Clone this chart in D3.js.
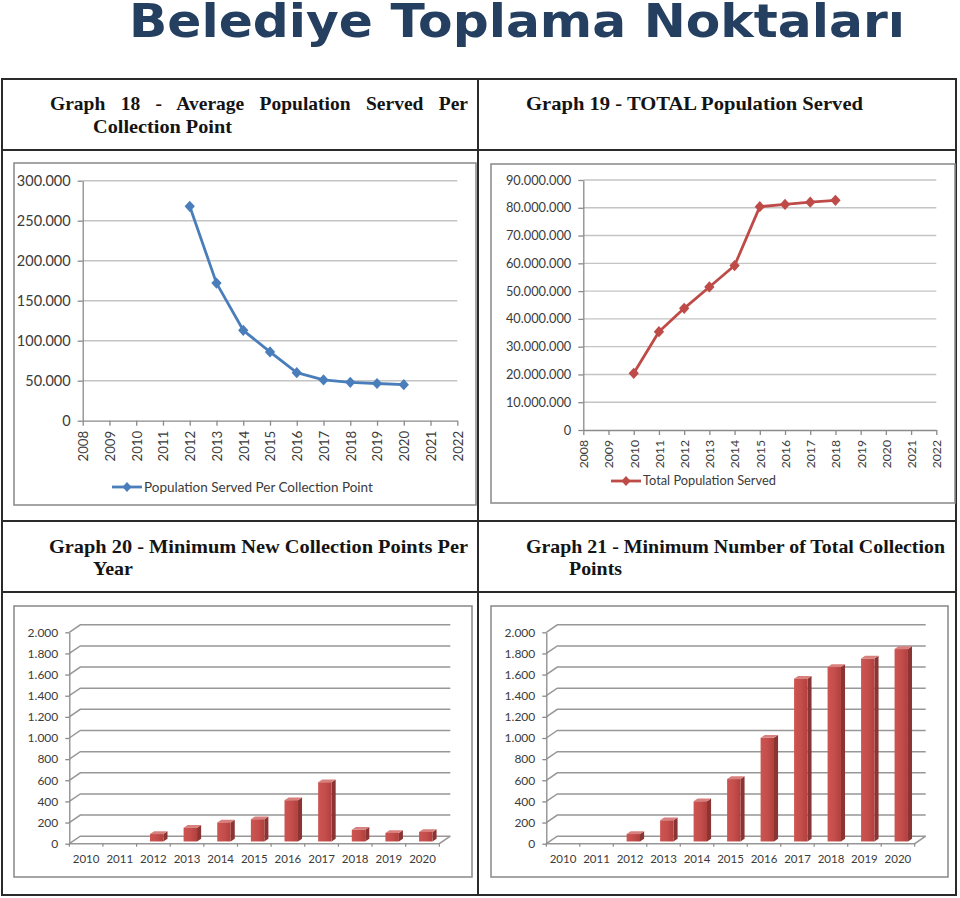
<!DOCTYPE html>
<html><head><meta charset="utf-8">
<script src="https://cdn.jsdelivr.net/npm/d3@7/dist/d3.min.js"></script>
<style>body{margin:0;background:#fff}svg{display:block}</style>
</head><body><svg id="c" width="960" height="898"></svg>
<script>
// ---------- DATA ----------
const pageTitle = "Belediye Toplama Noktaları";
const headerG18 = ["Graph 18 - Average Population Served Per", "Collection Point"];
const headerG19 = ["Graph 19 - TOTAL Population Served"];
const headerG20 = ["Graph 20 - Minimum New Collection Points Per", "Year"];
const headerG21 = ["Graph 21 - Minimum Number of Total Collection", "Points"];

const lineAxisYears = [2008,2009,2010,2011,2012,2013,2014,2015,2016,2017,2018,2019,2020,2021,2022];

const g18Name = "Population Served Per Collection Point";
const g18Years = [2012,2013,2014,2015,2016,2017,2018,2019,2020];
const g18Values = [268000,172000,113000,86000,60000,51000,48000,46500,45000];
const g18Ticks = [0,50000,100000,150000,200000,250000,300000];

const g19Name = "Total Population Served";
const g19Years = [2010,2011,2012,2013,2014,2015,2016,2017,2018];
const g19Values = [20400000,35400000,43800000,51500000,59200000,80400000,81200000,82000000,82700000];
const g19Ticks = [0,10000000,20000000,30000000,40000000,50000000,60000000,70000000,80000000,90000000];

const barYears = ["2010","2011","2012","2013","2014","2015","2016","2017","2018","2019","2020"];
const g20Values = [0,0,70,130,180,210,390,560,110,80,90];
const g21Values = [0,0,70,200,380,590,980,1540,1650,1730,1820];
const barTicks = [0,200,400,600,800,1000,1200,1400,1600,1800,2000];

// ---------- SETUP ----------
const svg = d3.select("#c");
svg.append("rect").attr("width",960).attr("height",898).attr("fill","#fff");
const trLocale = d3.formatLocale({decimal:",", thousands:".", grouping:[3], currency:["",""]});
const fmt = trLocale.format(",d");
const LABEL_FONT = "Lato, 'Open Sans', sans-serif";
const TXT = "#3b3b3b";

// Big title
const tt = svg.append("text").text(pageTitle)
  .attr("x",129).attr("y",37)
  .attr("font-family","'DejaVu Sans', Verdana, sans-serif").attr("font-weight","bold")
  .attr("font-size",47).attr("fill","#243f60")
  .attr("textLength",776).attr("lengthAdjust","spacingAndGlyphs");

// Table grid
const T = svg.append("g").attr("stroke","#2a2a2a").attr("stroke-width",2).attr("fill","none");
T.append("rect").attr("x",2).attr("y",79).attr("width",954).attr("height",816);
T.append("line").attr("x1",478).attr("x2",478).attr("y1",79).attr("y2",895);
[150,521,592].forEach(yy=>T.append("line").attr("x1",2).attr("x2",956).attr("y1",yy).attr("y2",yy));

// Headers
function header(lines, specs){
  lines.forEach((t,i)=>{
    const s = specs[i];
    const el = svg.append("text").text(t).attr("x",s.x).attr("y",s.y)
      .attr("font-family","'Liberation Serif','Times New Roman',serif").attr("font-weight","bold")
      .attr("font-size",19.5).attr("fill","#141414");
    const natural = el.node().getComputedTextLength();
    if (s.justify) {
      const spaces = (t.match(/ /g)||[]).length;
      el.attr("word-spacing", ((s.w - natural)/spaces).toFixed(2));
    } else {
      el.attr("textLength", s.w).attr("lengthAdjust","spacingAndGlyphs");
    }
  });
}
header(headerG18,[{x:50,y:110,w:418,justify:true},{x:93,y:133,w:139}]);
header(headerG19,[{x:526,y:110,w:337}]);
header(headerG20,[{x:49,y:553,w:419},{x:93,y:575,w:40}]);
header(headerG21,[{x:526,y:553,w:419},{x:569,y:575,w:53}]);

// Chart frames
const F = svg.append("g").attr("stroke","#8f8f8f").attr("stroke-width",1.6).attr("fill","none");
F.append("rect").attr("x",14).attr("y",163).attr("width",462).attr("height",342);
F.append("rect").attr("x",491).attr("y",164).attr("width",464).attr("height",339);
F.append("rect").attr("x",14).attr("y",606).attr("width",458).attr("height",271);
F.append("rect").attr("x",491).attr("y",606).attr("width",457).attr("height",271);

const diamond = (s)=>`M0,${-s}L${s*0.92},0L0,${s}L${-s*0.92},0Z`;

// ---------- LINE CHARTS ----------
function lineChart(c){
  const g = svg.append("g");
  const x = d3.scaleLinear().domain([lineAxisYears[0], lineAxisYears[lineAxisYears.length-1]]).range([c.x0,c.x1]);
  const y = d3.scaleLinear().domain([0, c.ticks[c.ticks.length-1]]).range([c.y0,c.y1]);
  // grid
  g.append("g").selectAll("line").data(c.ticks.slice(1)).join("line")
    .attr("x1",c.x0).attr("x2",c.x1).attr("y1",d=>y(d)).attr("y2",d=>y(d))
    .attr("stroke","#c4c4c4").attr("stroke-width",1.4);
  // y axis
  const ya = g.append("g").attr("transform",`translate(${c.x0},0)`)
    .call(d3.axisLeft(y).tickValues(c.ticks).tickFormat(fmt).tickSize(5).tickSizeOuter(0).tickPadding(7));
  ya.selectAll("path,line").attr("stroke","#8a8a8a").attr("stroke-width",1.3);
  ya.selectAll("text").attr("font-family",LABEL_FONT).attr("font-size",c.yFont).attr("fill",TXT);
  // x axis
  const xa = g.append("g").attr("transform",`translate(0,${c.y0})`)
    .call(d3.axisBottom(x).tickValues(lineAxisYears).tickFormat(d3.format("d")).tickSize(5).tickSizeOuter(0));
  xa.selectAll("path,line").attr("stroke","#8a8a8a").attr("stroke-width",1.3);
  xa.selectAll("text").attr("font-family",LABEL_FONT).attr("font-size",c.xFont).attr("fill",TXT)
    .attr("transform","rotate(-90)").attr("text-anchor","end")
    .attr("x",-10).attr("y",0).attr("dy","0.36em");
  // series
  const pts = c.years.map((yr,i)=>[yr,c.values[i]]);
  g.append("path").datum(pts)
    .attr("d", d3.line().x(d=>x(d[0])).y(d=>y(d[1])))
    .attr("fill","none").attr("stroke",c.color).attr("stroke-width",2.8).attr("stroke-linejoin","round");
  g.append("g").selectAll("path").data(pts).join("path")
    .attr("transform",d=>`translate(${x(d[0])},${y(d[1])})`)
    .attr("d",diamond(5.6)).attr("fill",c.color);
  // legend
  const lg = g.append("g");
  lg.append("line").attr("x1",c.lx).attr("x2",c.lx+30).attr("y1",c.ly).attr("y2",c.ly)
    .attr("stroke",c.color).attr("stroke-width",2.8);
  lg.append("path").attr("transform",`translate(${c.lx+15},${c.ly})`).attr("d",diamond(5)).attr("fill",c.color);
  lg.append("text").text(c.name).attr("x",c.lx+32).attr("y",c.ly).attr("dy","0.35em")
    .attr("font-family",LABEL_FONT).attr("font-size",c.legFont).attr("fill",TXT);
}

lineChart({x0:82.7,x1:457.3,y0:420.7,y1:180.7,ticks:g18Ticks,years:g18Years,values:g18Values,
  color:"#4a7ebb",name:g18Name,lx:112,ly:487,yFont:14.5,xFont:13.3,legFont:13.5});
lineChart({x0:583.3,x1:936.3,y0:430,y1:180,ticks:g19Ticks,years:g19Years,values:g19Values,
  color:"#be4b48",name:g19Name,lx:611,ly:481,yFont:12.8,xFont:12.2,legFont:12.8});

// ---------- 3D BAR CHARTS ----------
const defs = svg.append("defs");
const grad = defs.append("linearGradient").attr("id","barFront").attr("x1","0").attr("x2","1").attr("y1","0").attr("y2","0");
grad.append("stop").attr("offset","0").attr("stop-color","#cc5552");
grad.append("stop").attr("offset","0.5").attr("stop-color","#c44e4b");
grad.append("stop").attr("offset","1").attr("stop-color","#b2403d");

function bar3D(c){
  const g = svg.append("g");
  const dx = 11, dy = -7.5;
  const x = d3.scaleBand().domain(barYears).range([c.x0,c.x1]).paddingInner(0).paddingOuter(0);
  const y = d3.scaleLinear().domain([0, barTicks[barTicks.length-1]]).range([c.y0,c.yTop]);
  // walls / gridlines
  const grid = g.append("g").attr("fill","none").attr("stroke","#979797").attr("stroke-width",1.5);
  grid.selectAll("path").data(barTicks).join("path")
    .attr("d",d=>`M${c.x0},${y(d)}L${c.x0+dx},${y(d)+dy}L${c.x1+dx},${y(d)+dy}`);
  // floor edges
  grid.append("path").attr("d",`M${c.x0},${c.y0}L${c.x1},${c.y0}L${c.x1+dx},${c.y0+dy}`);
  // y axis (front)
  const ya = g.append("g").attr("transform",`translate(${c.x0},0)`)
    .call(d3.axisLeft(y).tickValues(barTicks).tickFormat(fmt).tickSize(4).tickSizeOuter(0).tickPadding(7));
  ya.selectAll("path,line").attr("stroke","#8a8a8a").attr("stroke-width",1.3);
  ya.selectAll("text").attr("font-family",LABEL_FONT).attr("font-size",12).attr("fill",TXT);
  // x axis (front)
  const xa = g.append("g").attr("transform",`translate(0,${c.y0})`);
  xa.selectAll("line").data(barYears.concat(["end"])).join("line")
    .attr("x1",(d,i)=>c.x0+i*x.bandwidth()).attr("x2",(d,i)=>c.x0+i*x.bandwidth())
    .attr("y1",0).attr("y2",3).attr("stroke","#8a8a8a").attr("stroke-width",1.2);
  xa.selectAll("text").data(barYears).join("text").text(d=>d)
    .attr("x",d=>x(d)+x.bandwidth()/2).attr("y",19.5).attr("text-anchor","middle")
    .attr("font-family",LABEL_FONT).attr("font-size",11.5).attr("fill",TXT);
  // bars
  const f0 = 0.3, f1 = 0.67;
  const bw = x.bandwidth()*0.4;
  const bars = g.append("g");
  barYears.forEach((yr,i)=>{
    const v = c.values[i];
    if (v <= 0) return;
    const cx = x(yr) + x.bandwidth()/2 + f0*dx;
    const bx = cx - bw/2;
    const by0 = c.y0 + f0*dy;
    const h = c.y0 - y(v);
    const byT = by0 - h;
    const sdx = (f1-f0)*dx, sdy = (f1-f0)*dy;
    bars.append("path").attr("d",`M${bx+bw},${by0}L${bx+bw+sdx},${by0+sdy}L${bx+bw+sdx},${byT+sdy}L${bx+bw},${byT}Z`)
      .attr("fill","#8a3533");
    bars.append("path").attr("d",`M${bx},${byT}L${bx+sdx},${byT+sdy}L${bx+bw+sdx},${byT+sdy}L${bx+bw},${byT}Z`)
      .attr("fill","#d8807d");
    bars.append("rect").attr("x",bx).attr("y",byT).attr("width",bw).attr("height",h)
      .attr("fill","url(#barFront)");
  });
}
bar3D({x0:69.3,x1:439.3,y0:843.7,yTop:632.3,values:g20Values});
bar3D({x0:546.3,x1:914.7,y0:843.7,yTop:632.3,values:g21Values});
</script></body></html>
